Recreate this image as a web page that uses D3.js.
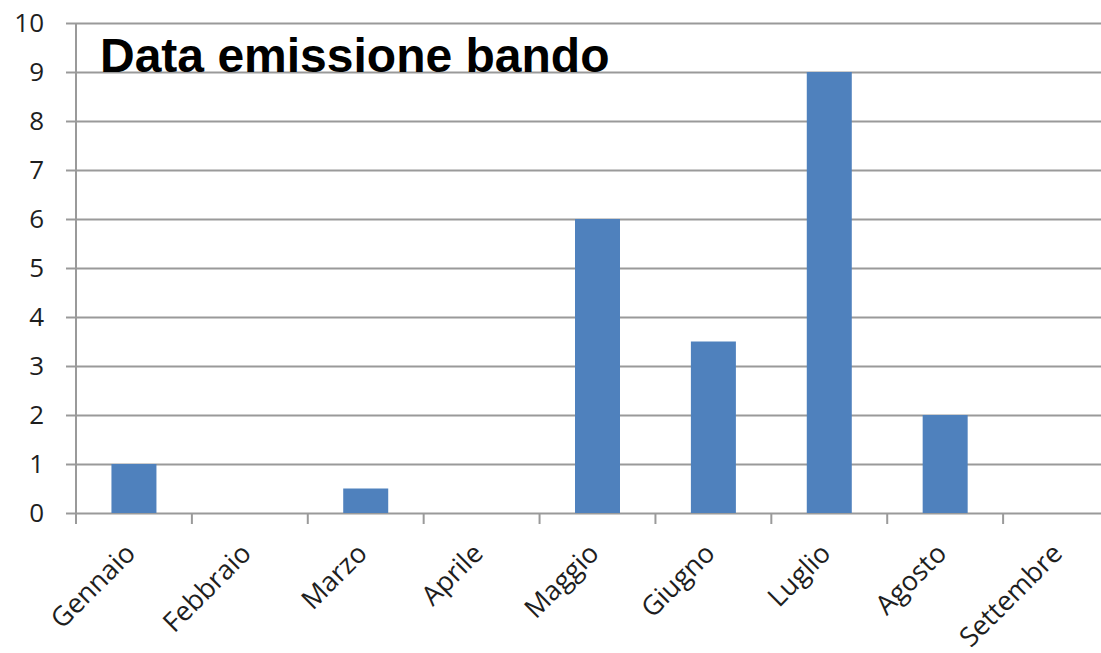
<!DOCTYPE html>
<html>
<head>
<meta charset="utf-8">
<script src="https://cdn.jsdelivr.net/npm/d3@7"></script>
<style>
  html, body { margin: 0; padding: 0; background: #fff; }
  svg { display: block; }
</style>
</head>
<body>
<svg id="chart" width="1101" height="653"></svg>
<script>
// Monthly counts of calls for tenders issued
const months = ["Gennaio", "Febbraio", "Marzo", "Aprile", "Maggio", "Giugno", "Luglio", "Agosto", "Settembre"];
const counts = [1, 0, 0.5, 0, 6, 3.5, 9, 2, 0];
const yTicks = [0, 1, 2, 3, 4, 5, 6, 7, 8, 9, 10];
const chartTitle = "Data emissione bando";

const svg = d3.select("#chart");
const plotLeft = 76, plotRight = 1119, plotTop = 23, plotBottom = 513;

const x = d3.scaleBand().domain(months).range([plotLeft, plotRight]).paddingInner(0).paddingOuter(0);
const y = d3.scaleLinear().domain([0, 10]).range([plotBottom, plotTop]);

const gridColor = "#9a9a9a";
const labelFont = "'Open Sans', sans-serif";

// Horizontal gridlines with their left tick stubs
const yAxis = d3.axisLeft(y).tickValues(yTicks).tickSize(10).tickPadding(22).tickFormat(d3.format("d"));
const gy = svg.append("g").attr("transform", `translate(${plotLeft},0)`).call(yAxis);
gy.select(".domain").remove();
gy.selectAll(".tick line").attr("stroke", gridColor).attr("stroke-width", 2);
gy.selectAll(".tick").append("line")
  .attr("x1", 0).attr("x2", plotRight - plotLeft)
  .attr("stroke", gridColor).attr("stroke-width", 2);
gy.selectAll(".tick text")
  .attr("fill", "#1e1e1e").attr("font-family", labelFont).attr("font-size", 26);

// Vertical axis line
svg.append("line")
  .attr("x1", plotLeft).attr("x2", plotLeft).attr("y1", plotTop).attr("y2", plotBottom + 8)
  .attr("stroke", gridColor).attr("stroke-width", 2);

// Category boundary ticks below the baseline
const boundaries = months.map(m => x(m)).concat([plotRight]);
svg.append("g").selectAll("line").data(boundaries).join("line")
  .attr("x1", d => d).attr("x2", d => d)
  .attr("y1", plotBottom).attr("y2", plotBottom + 11)
  .attr("stroke", gridColor).attr("stroke-width", 2);

// Bars
const barW = 45;
svg.append("g").selectAll("rect").data(months.map((m, i) => ({ m, v: counts[i] })).filter(d => d.v > 0))
  .join("rect")
  .attr("x", d => x(d.m) + x.bandwidth() / 2 - barW / 2)
  .attr("y", d => y(d.v))
  .attr("width", barW)
  .attr("height", d => y(0) - y(d.v))
  .attr("fill", "#4f81bd");

// Rotated category labels
svg.append("g").selectAll("text").data(months).join("text")
  .attr("transform", m => `translate(${x(m) + x.bandwidth() / 2 + 3},${plotBottom + 42}) rotate(-45)`)
  .attr("text-anchor", "end")
  .attr("font-family", labelFont)
  .attr("font-size", 27)
  .attr("fill", "#1e1e1e")
  .text(m => m);

// Title
svg.append("text")
  .attr("x", 100).attr("y", 72)
  .attr("font-family", "'Liberation Sans', Arial, sans-serif")
  .attr("font-weight", "bold")
  .attr("font-size", 48)
  .attr("fill", "#000")
  .text(chartTitle);
</script>
</body>
</html>
